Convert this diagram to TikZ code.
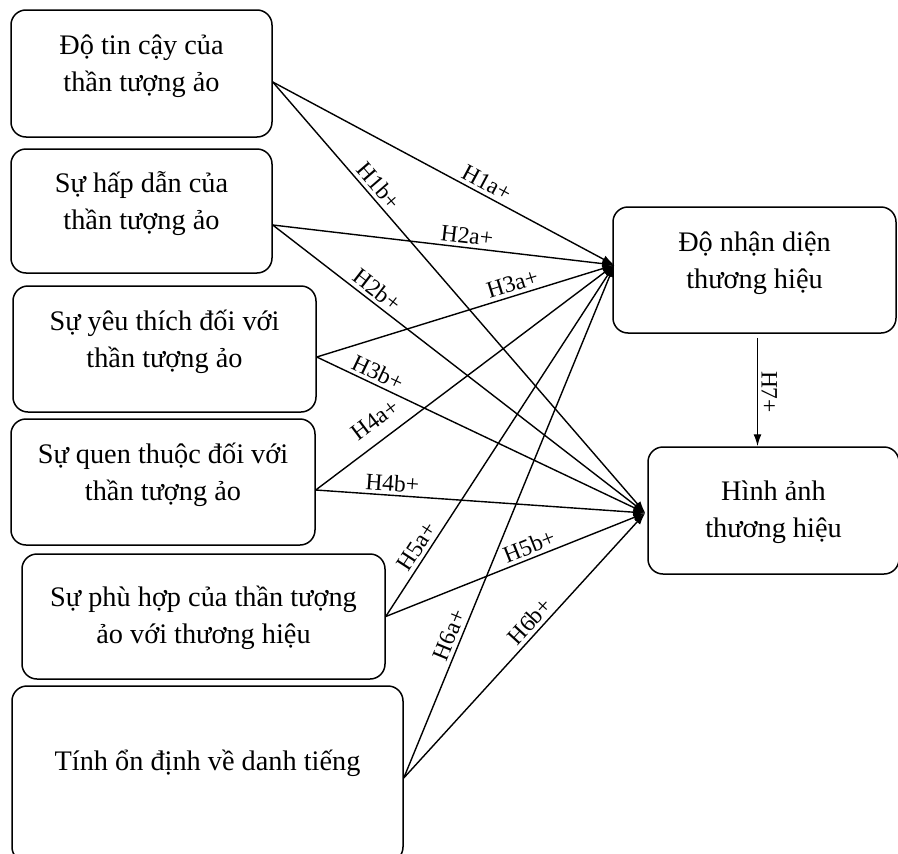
\documentclass[tikz,border=0pt]{standalone}
\usepackage{fontspec}
\setmainfont{Liberation Serif}
\usetikzlibrary{arrows.meta}
\newcommand\bxfont{\fontsize{28.3}{37}\selectfont}
\newcommand\lbfont{\fontsize{23.5}{26}\selectfont}
\tikzset{
  box/.style={draw, rounded corners=15pt, line width=1.5pt, inner sep=0pt},
  txt/.style={font=\bxfont, align=center, inner sep=0pt},
  conn/.style={line width=1.4pt, -{Latex[length=12pt,width=8pt]}},
  lbl/.style={font=\lbfont, sloped, above, inner sep=3.5pt}
}
\begin{document}
\begin{tikzpicture}[x=1pt,y=-1pt]
\useasboundingbox (0,0) rectangle (898,854);
\clip (0,0) rectangle (898,854);
% left boxes
\node[box, minimum width=261pt, minimum height=127pt] (b1) at (141.5,73.5) {};
\node[box, minimum width=261pt, minimum height=124pt] (b2) at (141.5,211) {};
\node[box, minimum width=303pt, minimum height=126pt] (b3) at (164.5,349) {};
\node[box, minimum width=304pt, minimum height=126pt] (b4) at (163,482) {};
\node[box, minimum width=363pt, minimum height=125pt] (b5) at (203.5,616.5) {};
\node[box, minimum width=391pt, minimum height=176pt] (b6) at (207.5,774) {};
% right boxes
\node[box, minimum width=283pt, minimum height=126pt] (A) at (754.5,270) {};
\node[box, minimum width=251pt, minimum height=127pt] (B) at (773.5,510.5) {};
% texts
\node[txt] (t1) at ([yshift=7pt]b1.center) {Độ tin cậy của\\thần tượng ảo};
\node[txt] (t2) at ([yshift=7pt]b2.center) {Sự hấp dẫn của\\thần tượng ảo};
\node[txt] (t3) at ([yshift=7pt]b3.center) {Sự yêu thích đối với\\thần tượng ảo};
\node[txt] (t4) at ([yshift=7pt]b4.center) {Sự quen thuộc đối với\\thần tượng ảo};
\node[txt] (t5) at ([yshift=-1pt]b5.center) {Sự phù hợp của thần tượng\\ảo với thương hiệu};
\node[txt] (t6) at (207.5,763) {Tính ổn định về danh tiếng};
\node[txt] (tA) at ([yshift=7pt]A.center) {Độ nhận diện\\thương hiệu};
\node[txt] (tB) at ([yshift=-2pt]B.center) {Hình ảnh\\thương hiệu};
% anchor points
\coordinate (o1) at ([yshift=-8.5pt]b1.east);
\coordinate (o2) at ([yshift=-14pt]b2.east);
\coordinate (o3) at ([yshift=-8pt]b3.east);
\coordinate (o4) at ([yshift=-8pt]b4.east);
\coordinate (o5) at ([yshift=0pt]b5.east);
\coordinate (o6) at ([yshift=-4pt]b6.east);
\coordinate (iA) at ([xshift=2pt,yshift=5pt]A.west);
\coordinate (iB) at ([xshift=-2pt,yshift=-2.5pt]B.west);
% connectors
\draw[conn] (o1) -- node[lbl,pos=0.61] {H1a+} (iA);
\draw[conn] (o1) -- node[lbl,pos=0.26] {H1b+} (iB);
\draw[conn] (o2) -- node[lbl,pos=0.565] {H2a+} (iA);
\draw[conn] (o2) -- node[lbl,pos=0.26] {H2b+} (iB);
\draw[conn] (o3) -- node[lbl,pos=0.67] {H3a+} (iA);
\draw[conn] (o3) -- node[lbl,pos=0.17] {H3b+} (iB);
\draw[conn] (o4) -- node[lbl,pos=0.24,above=8pt] {H4a+} (iA);
\draw[conn] (o4) -- node[lbl,pos=0.23] {H4b+} (iB);
\draw[conn] (o5) -- node[lbl,pos=0.18] {H5a+} (iA);
\draw[conn] (o5) -- node[lbl,pos=0.57] {H5b+} (iB);
\draw[conn] (o6) -- node[lbl,pos=0.27] {H6a+} (iA);
\draw[conn] (o6) -- node[lbl,pos=0.56] {H6b+} (iB);
\draw[conn] ([xshift=3pt,yshift=-4pt]A.south) -- node[lbl,midway] {H7+} ([xshift=3pt]A.south |- B.north);
\end{tikzpicture}
\end{document}
